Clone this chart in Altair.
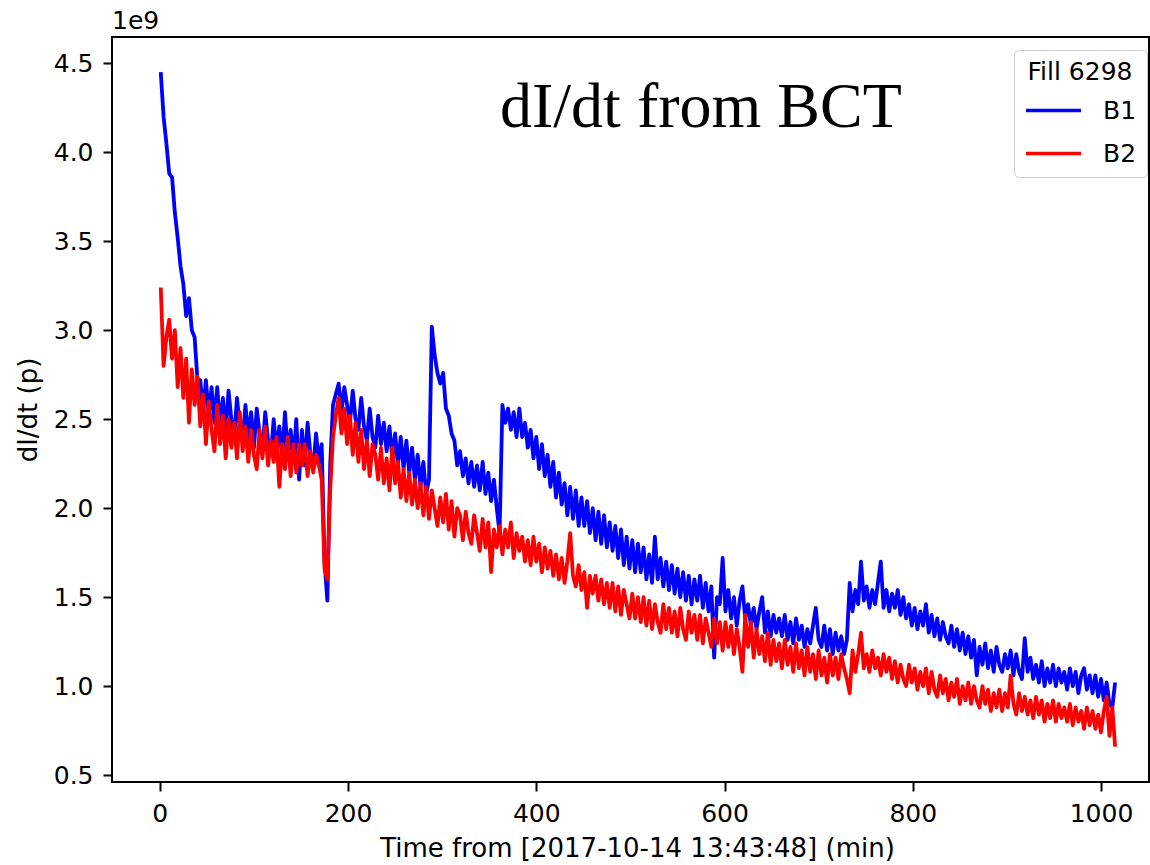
import altair as alt
import pandas as pd

# Beam loss rate dI/dt (in units of 1e9 p) sampled every 3 minutes from t = 1 min
T_START = 1
T_STEP = 3

b1_rate = [
    4.45, 4.20, 4.05, 3.88, 3.86, 3.66, 3.52, 3.36, 3.26, 3.08,
    3.18, 3.00, 2.96, 2.72, 2.72, 2.54, 2.72, 2.52, 2.68, 2.48,
    2.68, 2.46, 2.62, 2.42, 2.66, 2.50, 2.40, 2.62, 2.46, 2.38,
    2.58, 2.40, 2.54, 2.34, 2.56, 2.42, 2.32, 2.54, 2.38, 2.30,
    2.50, 2.32, 2.46, 2.28, 2.54, 2.30, 2.44, 2.26, 2.50, 2.16,
    2.44, 2.24, 2.48, 2.30, 2.22, 2.42, 2.26, 2.36, 1.70, 1.48,
    2.24, 2.58, 2.64, 2.70, 2.54, 2.68, 2.58, 2.48, 2.66, 2.50,
    2.44, 2.62, 2.46, 2.38, 2.56, 2.40, 2.34, 2.52, 2.36, 2.48,
    2.32, 2.46, 2.28, 2.42, 2.24, 2.40, 2.22, 2.38, 2.20, 2.34,
    2.16, 2.30, 2.12, 2.26, 2.08, 2.16, 3.02, 2.86, 2.76, 2.70,
    2.76, 2.56, 2.52, 2.42, 2.38, 2.24, 2.32, 2.18, 2.28, 2.14,
    2.26, 2.12, 2.24, 2.10, 2.26, 2.08, 2.20, 2.04, 2.16, 2.00,
    1.86, 2.58, 2.48, 2.56, 2.44, 2.54, 2.40, 2.56, 2.40, 2.48,
    2.34, 2.44, 2.28, 2.40, 2.22, 2.36, 2.18, 2.30, 2.12, 2.26,
    2.06, 2.20, 2.02, 2.14, 1.96, 2.12, 1.94, 2.10, 1.90, 2.06,
    1.90, 2.04, 1.86, 2.00, 1.82, 1.98, 1.80, 1.96, 1.78, 1.92,
    1.76, 1.90, 1.72, 1.88, 1.68, 1.84, 1.66, 1.82, 1.64, 1.80,
    1.64, 1.78, 1.60, 1.74, 1.58, 1.84, 1.60, 1.72, 1.56, 1.70,
    1.54, 1.68, 1.52, 1.66, 1.50, 1.64, 1.48, 1.62, 1.46, 1.60,
    1.48, 1.62, 1.44, 1.58, 1.42, 1.56, 1.16, 1.50, 1.46, 1.72,
    1.42, 1.54, 1.38, 1.50, 1.34, 1.48, 1.56, 1.38, 1.46, 1.34,
    1.44, 1.32, 1.42, 1.50, 1.30, 1.42, 1.28, 1.40, 1.30, 1.38,
    1.28, 1.40, 1.26, 1.36, 1.24, 1.38, 1.26, 1.34, 1.22, 1.32,
    1.24, 1.34, 1.44, 1.26, 1.22, 1.34, 1.20, 1.32, 1.18, 1.30,
    1.20, 1.28, 1.18, 1.26, 1.58, 1.42, 1.54, 1.46, 1.70, 1.48,
    1.56, 1.44, 1.54, 1.46, 1.58, 1.70, 1.44, 1.54, 1.42, 1.52,
    1.44, 1.54, 1.40, 1.50, 1.38, 1.46, 1.34, 1.44, 1.32, 1.42,
    1.34, 1.46, 1.30, 1.40, 1.28, 1.38, 1.26, 1.36, 1.28, 1.24,
    1.34, 1.22, 1.32, 1.20, 1.30, 1.18, 1.28, 1.16, 1.26, 1.06,
    1.22, 1.12, 1.24, 1.10, 1.20, 1.08, 1.22, 1.12, 1.08, 1.18,
    1.10, 1.20, 1.06, 1.18, 1.08, 1.04, 1.27, 1.08, 1.16, 1.04,
    1.12, 1.02, 1.14, 1.00, 1.10, 1.02, 1.12, 1.00, 1.10, 1.02,
    1.08, 0.98, 1.10, 1.00, 1.08, 0.96, 1.06, 1.10, 0.98, 1.06,
    0.96, 1.06, 0.94, 1.04, 0.92, 1.02, 0.90, 0.88, 1.02,
]

b2_rate = [
    3.24, 2.80, 2.96, 3.06, 2.84, 3.00, 2.68, 2.90, 2.62, 2.84,
    2.48, 2.78, 2.58, 2.74, 2.46, 2.64, 2.36, 2.60, 2.44, 2.32,
    2.58, 2.36, 2.52, 2.28, 2.50, 2.34, 2.48, 2.28, 2.54, 2.32,
    2.46, 2.26, 2.44, 2.30, 2.22, 2.44, 2.28, 2.46, 2.24, 2.38,
    2.26, 2.40, 2.12, 2.36, 2.22, 2.40, 2.18, 2.36, 2.20, 2.36,
    2.24, 2.36, 2.18, 2.32, 2.20, 2.30, 2.24, 2.16, 1.66, 1.60,
    2.10, 2.40, 2.52, 2.62, 2.42, 2.56, 2.36, 2.52, 2.30, 2.48,
    2.26, 2.44, 2.22, 2.38, 2.18, 2.36, 2.30, 2.16, 2.34, 2.14,
    2.28, 2.10, 2.34, 2.14, 2.26, 2.06, 2.22, 2.04, 2.20, 2.02,
    2.16, 2.00, 2.14, 1.96, 2.12, 1.94, 2.10, 2.00, 1.90, 2.06,
    1.92, 2.08, 1.88, 2.04, 1.84, 2.00, 1.96, 1.82, 1.98, 1.86,
    1.80, 1.96, 1.86, 1.76, 1.94, 1.78, 1.92, 1.64, 1.88, 1.78,
    1.90, 1.74, 1.88, 1.78, 1.92, 1.72, 1.86, 1.76, 1.84, 1.70,
    1.82, 1.68, 1.84, 1.70, 1.80, 1.64, 1.78, 1.66, 1.76, 1.62,
    1.74, 1.60, 1.72, 1.58, 1.70, 1.86, 1.62, 1.56, 1.68, 1.54,
    1.64, 1.44, 1.62, 1.52, 1.62, 1.48, 1.60, 1.46, 1.58, 1.44,
    1.58, 1.42, 1.56, 1.40, 1.54, 1.46, 1.38, 1.52, 1.38, 1.50,
    1.36, 1.50, 1.34, 1.48, 1.32, 1.46, 1.36, 1.30, 1.46, 1.32,
    1.44, 1.30, 1.42, 1.28, 1.44, 1.32, 1.26, 1.42, 1.30, 1.40,
    1.26, 1.40, 1.24, 1.38, 1.30, 1.22, 1.38, 1.24, 1.36, 1.20,
    1.36, 1.22, 1.34, 1.18, 1.32, 1.22, 1.08, 1.40, 1.22, 1.36,
    1.16, 1.32, 1.18, 1.28, 1.14, 1.30, 1.12, 1.26, 1.14, 1.24,
    1.10, 1.26, 1.12, 1.22, 1.08, 1.24, 1.10, 1.20, 1.06, 1.22,
    1.08, 1.18, 1.04, 1.20, 1.06, 1.16, 1.02, 1.18, 1.06, 1.16,
    1.04, 1.18, 1.10, 1.04, 0.96, 1.20, 1.08, 1.18, 1.30, 1.10,
    1.18, 1.08, 1.20, 1.10, 1.16, 1.06, 1.18, 1.08, 1.16, 1.04,
    1.14, 1.02, 1.12, 1.04, 1.00, 1.12, 1.02, 1.10, 0.98, 1.08,
    1.00, 1.10, 0.96, 1.08, 0.98, 0.94, 1.06, 0.96, 1.04, 0.92,
    1.02, 0.94, 1.04, 0.90, 1.00, 0.92, 1.02, 0.90, 1.00, 0.92,
    0.88, 1.00, 0.90, 0.98, 0.86, 0.96, 0.88, 0.98, 0.86, 0.96,
    0.88, 1.06, 0.90, 0.84, 0.96, 0.86, 0.94, 0.84, 0.92, 0.82,
    0.94, 0.84, 0.92, 0.80, 0.90, 0.82, 0.92, 0.80, 0.90, 0.82,
    0.88, 0.80, 0.90, 0.78, 0.88, 0.80, 0.86, 0.76, 0.88, 0.78,
    0.86, 0.76, 0.84, 0.74, 0.86, 0.94, 0.72, 0.88, 0.66,
]

beams = ["B1", "B2"]
beam_colors = ["#0000ff", "#ff0000"]
x_ticks = [0, 200, 400, 600, 800, 1000]
y_ticks = [0.5, 1.0, 1.5, 2.0, 2.5, 3.0, 3.5, 4.0, 4.5]

times = [T_START + T_STEP * i for i in range(len(b1_rate))]
df = pd.DataFrame({
    "time": times + times,
    "rate": b1_rate + b2_rate,
    "beam": ["B1"] * len(b1_rate) + ["B2"] * len(b2_rate),
})

FONT = "DejaVu Sans"

lines = alt.Chart(df).mark_line(strokeWidth=3.8, strokeJoin="round").encode(
    x=alt.X(
        "time:Q",
        scale=alt.Scale(domain=[-50.8, 1051], nice=False, zero=False),
        axis=alt.Axis(
            values=x_ticks,
            format="d",
            title="Time from [2017-10-14 13:43:48] (min)",
            titleX=525,
            titlePadding=9,
        ),
    ),
    y=alt.Y(
        "rate:Q",
        scale=alt.Scale(domain=[0.461, 4.648], nice=False, zero=False),
        axis=alt.Axis(values=y_ticks, format=".1f", title="dI/dt (p)", titlePadding=12),
    ),
    color=alt.Color(
        "beam:N",
        scale=alt.Scale(domain=beams, range=beam_colors),
        legend=alt.Legend(
            title="Fill 6298",
            orient="none",
            legendX=902,
            legendY=13,
            padding=10,
            fillColor="white",
            strokeColor="#cccccc",
            cornerRadius=5,
            symbolType="stroke",
            symbolSize=3025,
            symbolStrokeWidth=3.5,
            labelFontSize=25,
            labelFont=FONT,
            labelColor="black",
            labelOffset=20,
            titleFontSize=25,
            titleFont=FONT,
            titleFontWeight="normal",
            titleColor="black",
            titleAnchor="middle",
            titlePadding=-4,
            rowPadding=-16,
        ),
    ),
)

# scale offset shown above the y axis
offset_label = alt.Chart(pd.DataFrame({"t": ["1e9"]})).mark_text(
    align="left", baseline="alphabetic", font=FONT, fontSize=25, color="black"
).encode(x=alt.value(0), y=alt.value(-8), text="t:N")

# in-plot annotation
note = alt.Chart(pd.DataFrame({"t": ["dI/dt from BCT"]})).mark_text(
    align="left", baseline="alphabetic", font="Liberation Serif", fontSize=64, color="black"
).encode(x=alt.value(388), y=alt.value(90), text="t:N")

chart = alt.layer(lines, offset_label, note).properties(
    width=1037,
    height=745,
    padding={"left": 112, "top": 37, "right": 1, "bottom": 83},
    autosize=alt.AutoSizeParams(type="none"),
).configure_view(
    stroke="black", strokeWidth=2
).configure_axis(
    grid=False,
    domain=False,
    ticks=True,
    tickColor="black",
    tickWidth=2,
    tickSize=9,
    labelFont=FONT,
    labelFontSize=25,
    labelColor="black",
    labelPadding=10,
    titleFont=FONT,
    titleFontSize=26,
    titleFontWeight="normal",
    titleColor="black",
)

chart.save("out.html", embed_options={"renderer": "svg", "actions": False})
